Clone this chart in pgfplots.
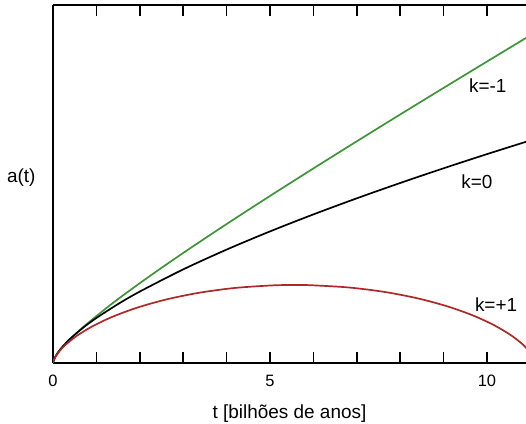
\documentclass[border=0pt]{standalone}
\usepackage{fontspec}
\setmainfont{Liberation Sans}
\usepackage{pgfplots}
\pgfplotsset{compat=1.18}
\definecolor{kgreen}{RGB}{60,150,55}
\definecolor{kred}{RGB}{175,40,40}
\begin{document}
\begin{tikzpicture}
\useasboundingbox (-53bp,-61bp) rectangle (473bp,363bp);
\begin{axis}[
  at={(0,0)}, anchor=south west,
  scale only axis,
  width=473bp, height=358bp,
  xmin=0, xmax=10.9, ymin=0, ymax=358,
  axis x line=box, axis y line=left,
  axis line style={-, line width=1.6bp},
  xtick={0,1,2,3,4,5,6,7,8,9,10},
  xticklabels={0,,,,,5,,,,,10},
  ytick=\empty,
  tick align=inside,
  major tick length=11bp,
  every tick/.style={black, line width=1.5bp},
  xtick pos=both,
  /pgf/number format/assume math mode=true,
  ticklabel style={font=\fontsize{16.5}{18}\selectfont},
  xticklabel style={yshift=-9bp},
  xlabel={t [bilhões de anos]},
  xlabel style={font=\fontsize{19}{21}\selectfont, yshift=-11bp},
  ylabel={a(t)},
  ylabel style={rotate=-90, font=\fontsize{19}{21}\selectfont, at={(axis description cs:0,0.517)}, anchor=east, xshift=-14bp},
  clip=true,
]
% k=-1 (open)
\addplot[kgreen, line width=1.7bp, smooth] coordinates {
(0,0) (0.0048,1.17) (0.0389,4.79) (0.1344,11.17) (0.3288,20.92) (0.6685,34.89)
(1.2134,54.37) (1.5864,66.71) (2.0418,81.12) (2.5935,97.95) (3.2576,117.57)
(4.0525,140.42) (5.0000,167.02) (6.1248,197.96) (7.4557,233.95) (9.0268,275.79)
(10.8767,324.43) (12.2869,361.17)
};
% k=0 (flat)
\addplot[black, line width=1.7bp, smooth] coordinates {
(0,0) (0.05,6.11) (0.1,9.69) (0.2,15.39) (0.4,24.43) (0.7,35.48) (1,45)
(1.5,58.97) (2,71.43) (3,93.60) (4,113.39) (5,131.58) (6,148.59) (7,164.67)
(8,180) (9,194.70) (10,208.87) (11,222.57)
};
% k=+1 (closed)
\addplot[kred, line width=1.7bp, smooth] coordinates {
(0,0) (0.0024,0.78) (0.0187,3.08) (0.0626,6.81) (0.1463,11.83) (0.2806,17.93)
(0.5328,26.70) (0.8894,36.24) (1.3558,45.95) (1.9305,55.23) (2.6053,63.50)
(3.3657,70.24) (4.1920,75.05) (5.0602,77.61) (5.5606,78.00) (5.9440,77.77)
(6.8159,75.52) (7.6492,71.00) (8.4195,64.49) (9.1066,56.40) (9.6952,47.22)
(10.1763,37.53) (10.5473,27.94) (10.8128,19.03) (10.9838,11.36) (11.0778,5.42)
};
\node[font=\fontsize{19}{21}\selectfont] at (axis cs:10.02,277) {k=-1};
\node[font=\fontsize{19}{21}\selectfont] at (axis cs:9.77,181) {k=0};
\node[font=\fontsize{19}{21}\selectfont] at (axis cs:10.21,58) {k=+1};
\end{axis}
\end{tikzpicture}
\end{document}
